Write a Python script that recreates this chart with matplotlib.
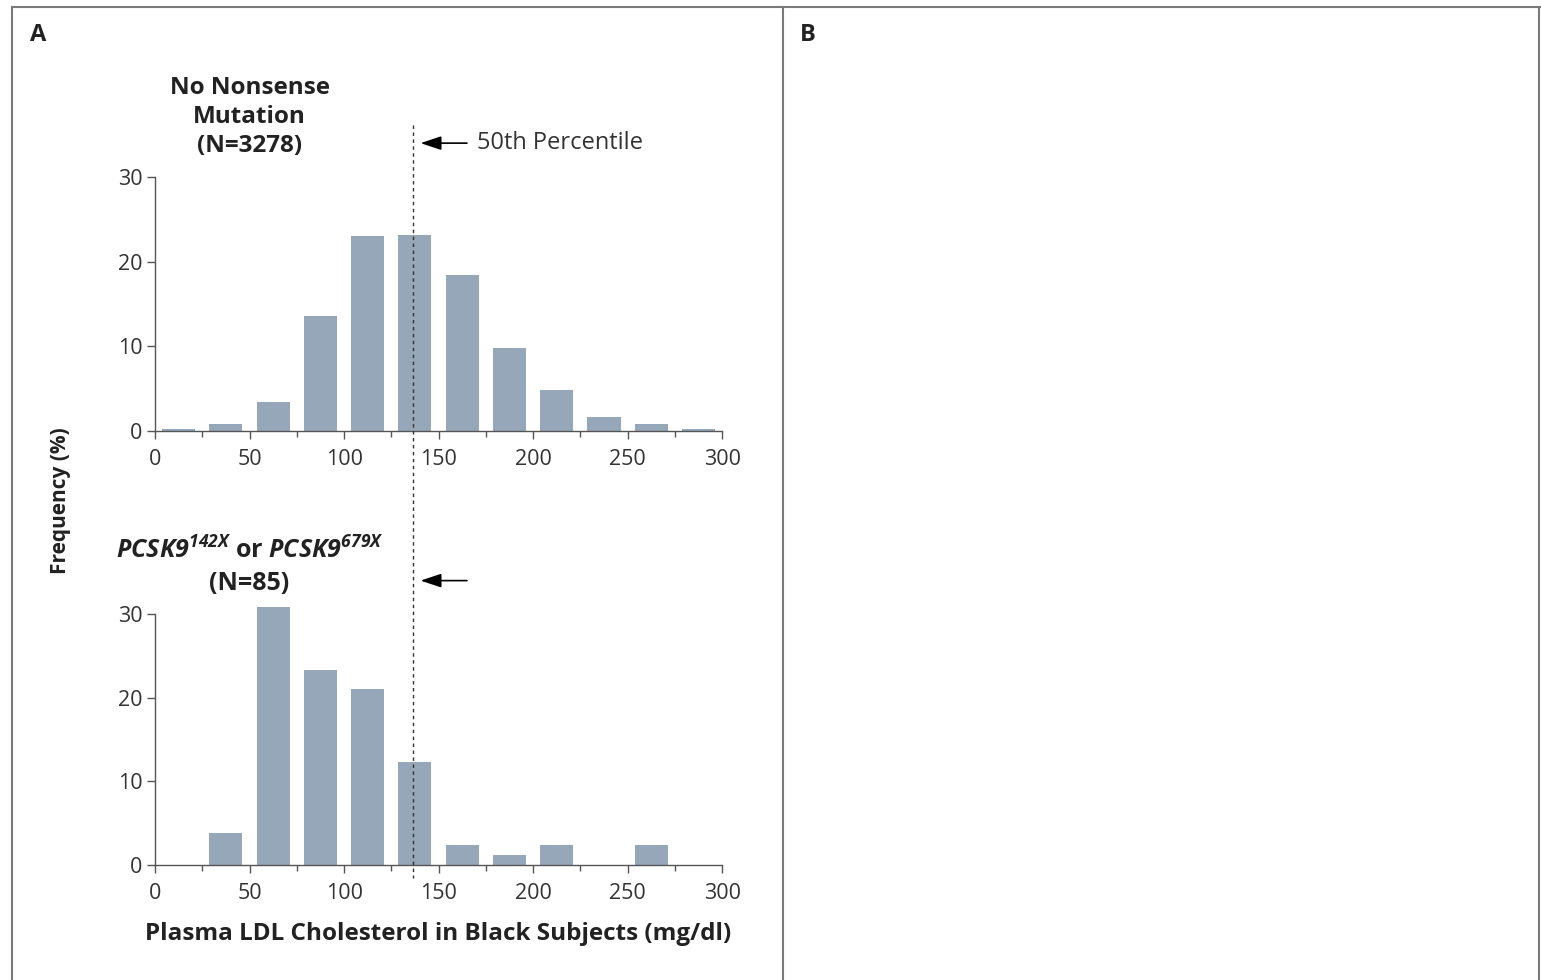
import matplotlib
matplotlib.use('Agg')
import matplotlib.pyplot as plt
from matplotlib.lines import Line2D
from matplotlib import transforms

plt.rcParams['font.family'] = ['Open Sans', 'DejaVu Sans']
plt.rcParams['mathtext.fontset'] = 'custom'
plt.rcParams['mathtext.it'] = 'Open Sans:italic:bold'
plt.rcParams['mathtext.rm'] = 'Open Sans:italic:bold'
plt.rcParams['mathtext.default'] = 'it'

# histogram bins (mg/dl), 25-wide
bin_centers = [12.5, 37.5, 62.5, 87.5, 112.5, 137.5, 162.5, 187.5, 212.5, 237.5, 262.5, 287.5]
freq_none = [0.2, 0.8, 3.4, 13.6, 23.0, 23.2, 18.4, 9.8, 4.8, 1.7, 0.8, 0.2]
freq_pcsk9 = [0, 3.8, 30.8, 23.3, 21.0, 12.3, 2.4, 1.2, 2.4, 0, 2.4, 0]
p50 = 136.5

x_ticks = [0, 50, 100, 150, 200, 250, 300]
x_minor = [25, 75, 125, 175, 225, 275]
y_ticks = [0, 10, 20, 30]

bar_color = '#95a7b9'
txt = '#222222'

fig = plt.figure(figsize=(15.41, 9.80), dpi=100)
ax1 = fig.add_axes([0.1006, 0.5602, 0.368, 0.2592])
ax2 = fig.add_axes([0.1006, 0.1173, 0.368, 0.2561])

for ax, freq in [(ax1, freq_none), (ax2, freq_pcsk9)]:
    ax.bar(bin_centers, freq, width=17.5, color=bar_color, zorder=2, clip_on=False)
    ax.set_xlim(0, 300)
    ax.set_ylim(0, 30)
    ax.set_xticks(x_ticks)
    ax.set_xticks(x_minor, minor=True)
    ax.set_yticks(y_ticks)
    ax.spines['top'].set_visible(False)
    ax.spines['right'].set_visible(False)
    for s in ['left', 'bottom']:
        ax.spines[s].set_color('#555555')
        ax.spines[s].set_linewidth(1.0)
    ax.tick_params(axis='both', which='major', length=6, width=1, color='#555555',
                   labelsize=15.5, labelcolor='#333333', pad=3)
    ax.tick_params(axis='x', which='major', pad=7)
    ax.tick_params(axis='x', which='minor', length=4, width=1, color='#555555')
    ax.set_facecolor('none')

# titles
ax1.text(50, 1.075, 'No Nonsense\nMutation\n(N=3278)', transform=ax1.get_xaxis_transform(),
         ha='center', va='bottom', fontsize=17.5, fontweight='bold', linespacing=1.27,
         color=txt)
ax2.text(50, 1.07, r'$PCSK9^{142X}$ or $PCSK9^{679X}$' + '\n(N=85)',
         transform=ax2.get_xaxis_transform(), ha='center', va='bottom', fontsize=18,
         fontweight='bold', linespacing=1.35, color=txt)

ax2.set_xlabel('Plasma LDL Cholesterol in Black Subjects (mg/dl)', fontsize=17.5,
               fontweight='bold', color=txt, labelpad=13)
fig.text(0.039, 0.489, 'Frequency (%)', rotation=90, ha='center', va='center',
         fontsize=15, fontweight='bold', color=txt)

# median line across both panels
tr = transforms.blended_transform_factory(ax1.transData, fig.transFigure)
fig.add_artist(Line2D([p50, p50], [1 - 125 / 980, 1 - 878 / 980], transform=tr,
                      color='#333333', lw=1, ls=(0, (2.5, 2.5))))

# arrows
for ax in (ax1, ax2):
    ax.annotate('', xy=(p50 + 2.5, 34), xytext=(p50 + 30, 34), xycoords='data',
                annotation_clip=False,
                arrowprops=dict(arrowstyle='-|>,head_length=0.9,head_width=0.3',
                                color='black', lw=1.2, mutation_scale=14))
ax1.text(p50 + 34, 34, '50th Percentile', ha='left', va='center', fontsize=17,
         color='#333333', clip_on=False)

# panel frames and labels
frame_color = '#7a7a7a'
for xs, ys in [([12 / 1541, 1], [1 - 7 / 980] * 2),
               ([12 / 1541] * 2, [0, 1 - 7 / 980]),
               ([783 / 1541] * 2, [0, 1 - 7 / 980]),
               ([1539 / 1541] * 2, [0, 1 - 7 / 980])]:
    fig.add_artist(Line2D(xs, ys, transform=fig.transFigure, color=frame_color, lw=1.5))

fig.text(38 / 1541, 1 - 35 / 980, 'A', ha='center', va='center', fontsize=17,
         fontweight='bold', color=txt)
fig.text(808 / 1541, 1 - 35 / 980, 'B', ha='center', va='center', fontsize=17,
         fontweight='bold', color=txt)

fig.savefig('out.png', dpi=100)
